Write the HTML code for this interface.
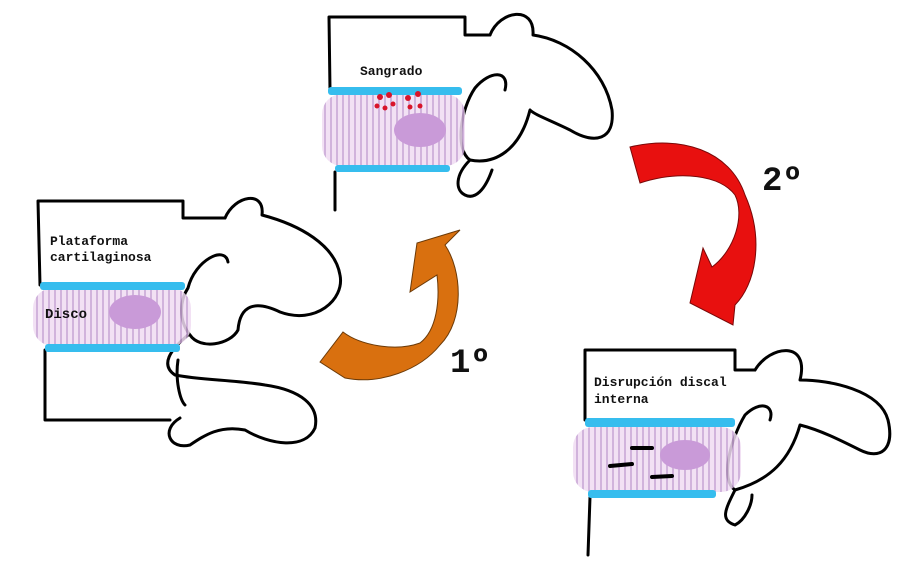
<!DOCTYPE html>
<html><head><meta charset="utf-8"><style>
html,body{margin:0;padding:0;background:#fff;}
svg{display:block}
text{font-family:"Liberation Mono","DejaVu Sans Mono",monospace;font-weight:bold;fill:#111}
</style></head><body>
<svg width="900" height="570" viewBox="0 0 900 570" xmlns="http://www.w3.org/2000/svg">
<defs>
<pattern id="stripes" width="6" height="10" patternUnits="userSpaceOnUse">
<rect width="6" height="10" fill="#f0dcf2"/><rect x="0" width="2" height="10" fill="#c9a6d6"/>
</pattern>
</defs>
<g fill="none" stroke="#000" stroke-width="3" stroke-linecap="round" stroke-linejoin="round">
<path d="M40 285 L38 201 L183 201 L183 218 L225 218"/>
<path d="M45 350 L45 420 L170 420"/>
<path d="M225 218 C235 195 265 190 262 215 C300 225 335 245 340 275 C345 300 315 325 280 312 C255 300 240 305 238 330 C230 345 200 350 190 335 C178 320 180 300 188 288 C195 260 225 245 228 262"/>
<path d="M188 335 C170 350 160 365 175 375 C200 380 235 380 265 385 C300 390 320 405 315 428 C305 450 270 445 245 430 C220 425 205 435 190 445 C170 450 160 430 180 418"/>
<path d="M178 360 C175 380 180 400 185 405"/>
<path d="M330 90 L329 17 L465 17 L465 35 L490 35"/>
<path d="M335 172 L335 210"/>
<path d="M490 35 C500 10 535 5 533 35 C570 40 605 70 612 110 C615 140 595 145 570 130 C550 120 535 115 530 110 C520 150 495 165 470 160 C455 150 460 110 475 88 C490 70 510 70 505 90"/>
<path d="M470 160 C455 175 455 190 465 195 C475 200 485 190 492 170"/>
<path d="M585 420 L585 350 L735 350 L735 370 L755 370"/>
<path d="M590 497 L588 555"/>
<path d="M755 370 C770 345 810 340 800 380 C830 380 880 390 888 420 C895 450 880 460 860 450 C840 440 820 430 800 425 C790 460 770 480 735 490 C720 480 730 440 745 415 C760 400 775 405 770 420"/>
<path d="M735 490 C725 510 720 520 735 525 C745 520 752 505 752 495"/>
</g>
<rect x="33" y="288" width="158" height="58" rx="20" fill="url(#stripes)" opacity="0.85"/>
<ellipse cx="135" cy="312" rx="26" ry="17" fill="#c99ad8"/>
<rect x="40" y="282" width="145" height="8" rx="3" fill="#36bdee"/>
<rect x="45" y="344" width="135" height="8" rx="3" fill="#36bdee"/>

<rect x="322" y="94" width="143" height="72" rx="20" fill="url(#stripes)" opacity="0.85"/>
<ellipse cx="420" cy="130" rx="26" ry="17" fill="#c99ad8"/>
<rect x="328" y="87" width="134" height="8" rx="3" fill="#36bdee"/>
<rect x="335" y="165" width="115" height="7" rx="3" fill="#36bdee"/>
<g fill="#d8142a">
<circle cx="380" cy="97" r="3"/><circle cx="389" cy="95" r="3"/><circle cx="377" cy="106" r="2.5"/><circle cx="385" cy="108" r="2.5"/><circle cx="393" cy="104" r="2.5"/>
<circle cx="408" cy="98" r="3"/><circle cx="418" cy="94" r="3"/><circle cx="410" cy="107" r="2.5"/><circle cx="420" cy="106" r="2.5"/>
</g>

<rect x="573" y="427" width="168" height="65" rx="20" fill="url(#stripes)" opacity="0.85"/>
<ellipse cx="685" cy="455" rx="25" ry="15" fill="#c99ad8"/>
<rect x="585" y="418" width="150" height="9" rx="3" fill="#36bdee"/>
<rect x="588" y="490" width="128" height="8" rx="3" fill="#36bdee"/>
<g stroke="#000" stroke-width="4" stroke-linecap="round">
<line x1="632" y1="448" x2="652" y2="448"/><line x1="610" y1="466" x2="632" y2="464"/><line x1="652" y1="477" x2="672" y2="476"/>
</g>

<path d="M320 362 L343 332 C360 345 395 352 420 343 C437 330 440 300 437 275 L410 292 L417 243 L460 230 L445 245 C462 270 465 320 440 345 C420 370 380 385 345 378 Z" fill="#d9700f" stroke="#6b3a08" stroke-width="1"/>
<path d="M630 147 C680 135 730 150 745 195 C765 240 755 285 735 305 L733 325 L690 303 L703 248 L712 267 C735 250 745 215 735 195 C720 175 680 170 640 183 Z" fill="#e8100f" stroke="#7a0808" stroke-width="1"/>

<text x="50" y="245" font-size="13">Plataforma</text>
<text x="50" y="261" font-size="13">cartilaginosa</text>
<text x="45" y="318" font-size="14">Disco</text>
<text x="360" y="75" font-size="13">Sangrado</text>
<text x="594" y="386" font-size="13">Disrupción discal</text>
<text x="594" y="403" font-size="13">interna</text>
<text x="450" y="372" font-size="34" font-family="Liberation Sans,sans-serif">1º</text>
<text x="762" y="190" font-size="34" font-family="Liberation Sans,sans-serif">2º</text>
</svg>
</body></html>
